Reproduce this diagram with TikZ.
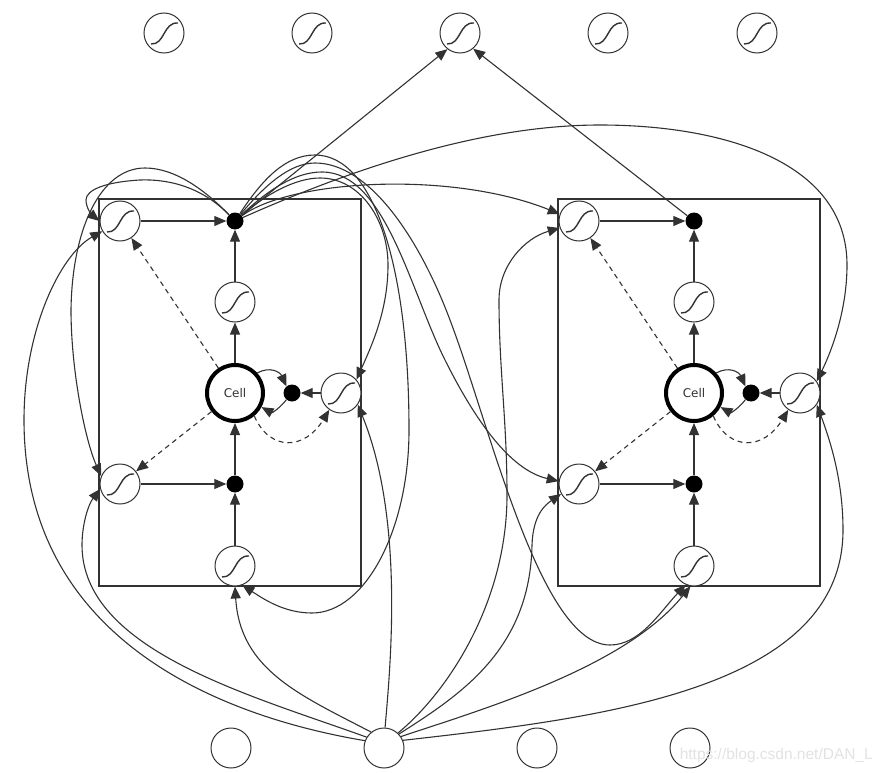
\documentclass[tikz,border=0pt]{standalone}
\usepackage{fontspec}
\setsansfont{DejaVu Sans}
\newfontfamily\markfont{Liberation Sans}
\usepackage{xcolor}
\usetikzlibrary{arrows.meta, positioning, backgrounds}
\definecolor{linecolor}{RGB}{50,50,50}
\definecolor{markcolor}{RGB}{226,226,226}

\begin{document}
\begin{tikzpicture}[
  x=1pt, y=-1pt,
  font=\sffamily,
  every node/.style={align=center},
  blockbox/.style={
    draw=linecolor, line width=1.2pt,
    minimum width=262pt, minimum height=387pt, inner sep=0pt
  },
  plainunit/.style={
    draw=linecolor, circle, fill=white, line width=1pt,
    minimum size=40pt, inner sep=0pt
  },
  sigmoid/.style={
    plainunit,
    path picture={
      \draw[linecolor, line width=1.4pt, shift={(path picture bounding box.center)}]
        (-13,11) .. controls (1,12) and (-1,-11) .. (14,-10);
    }
  },
  cellunit/.style={
    draw=black, circle, fill=white, line width=4pt,
    minimum size=56pt, inner sep=0pt,
    font=\fontsize{12}{14}\sffamily, text=linecolor
  },
  gateunit/.style={circle, fill=black, minimum size=17pt, inner sep=0pt},
  arr/.style={-{Triangle[length=12pt, width=10pt]}, linecolor, line width=1.1pt},
  peep/.style={arr, dash pattern=on 5pt off 4pt},
]

\useasboundingbox (0,0) rectangle (883,773);

%% ─── Memory blocks ───────────────────────────────────────────────────────────

\foreach \bk/\dx in {a/0, b/459}{
  \node[blockbox] (box\bk) at (230+\dx, 392.5) {};
}

%% ─── Output row ──────────────────────────────────────────────────────────────

\foreach \nd/\ox in {1/164, 2/312, 3/460, 4/608, 5/757}{
  \node[sigmoid] (top\nd) at (\ox, 33) {};
}

%% ─── Input row ───────────────────────────────────────────────────────────────

\node[plainunit] (inpone)   at (231, 748) {};
\node[plainunit] (inptwo)   at (384, 748) {};
\node[plainunit] (inpthree) at (537, 748) {};
\node[plainunit] (inpfour)  at (690, 748) {};

%% ─── Units and wiring inside each block ──────────────────────────────────────

\foreach \bk/\dx in {a/0, b/459}{
  \node[sigmoid]  (up\bk)     at (120+\dx, 221) {};
  \node[gateunit] (out\bk)    at (235+\dx, 221) {};
  \node[sigmoid]  (outsig\bk) at (235+\dx, 302) {};
  \node[cellunit] (cell\bk)   at (235+\dx, 393) {Cell};
  \node[gateunit] (keep\bk)   at (292+\dx, 393) {};
  \node[sigmoid]  (side\bk)   at (341+\dx, 393) {};
  \node[sigmoid]  (low\bk)    at (120+\dx, 484) {};
  \node[gateunit] (add\bk)    at (235+\dx, 484) {};
  \node[sigmoid]  (bot\bk)    at (235+\dx, 566) {};

  \draw[arr] (up\bk) -- (out\bk);
  \draw[arr] (outsig\bk) -- (out\bk);
  \draw[arr] (cell\bk) -- (outsig\bk);
  \draw[arr] (low\bk) -- (add\bk);
  \draw[arr] (bot\bk) -- (add\bk);
  \draw[arr] (add\bk) -- (cell\bk);
  \draw[arr] (side\bk) -- (keep\bk);
  \draw[peep] (cell\bk) -- (up\bk);
  \draw[peep] (cell\bk) -- (low\bk);
  \draw[peep] (cell\bk.-50) .. controls (270+\dx, 452) and (305+\dx, 450) .. (side\bk.-125);
  \draw[arr] (cell\bk.42) .. controls (270+\dx, 366) and (280+\dx, 372) .. (keep\bk.130);
  \draw[arr] (keep\bk.-130) .. controls (280+\dx, 408) and (272+\dx, 413) .. (cell\bk.-28);
}

%% ─── Output links ────────────────────────────────────────────────────────────

\draw[arr] (outa) -- (top3.-128);
\draw[arr] (outb) -- (top3.-50);

%% ─── Links from the first block's output gate ────────────────────────────────

\draw[arr] (outa) .. controls (200,185) and (165,179) .. (140,180)
  .. controls (105,182) and (86,190) .. (86,200)
  .. controls (86,208) and (92,215) .. (upa.180);
\draw[arr] (outa) .. controls (205,190) and (175,168) .. (145,168)
  .. controls (100,168) and (72,230) .. (71,310)
  .. controls (71,370) and (85,440) .. (lowa.157);
\draw[arr] (outa) .. controls (265,195) and (295,178) .. (320,178)
  .. controls (360,178) and (388,220) .. (388,265)
  .. controls (388,310) and (372,345) .. (sidea.41);
\draw[arr] (outa) .. controls (262,180) and (285,155) .. (315,155)
  .. controls (375,155) and (409,270) .. (409,430)
  .. controls (409,530) and (365,613) .. (312,613)
  .. controls (285,613) and (265,600) .. (bota.-69);
\draw[arr] (outa) .. controls (290,180) and (450,170) .. (upb.160);
\draw[arr] (outa) .. controls (268,190) and (295,172) .. (322,172)
  .. controls (385,172) and (410,290) .. (445,360)
  .. controls (475,420) and (510,470) .. (lowb.172);
\draw[arr] (outa) .. controls (265,185) and (290,163) .. (315,163)
  .. controls (370,163) and (420,240) .. (450,320)
  .. controls (490,425) and (540,645) .. (610,645)
  .. controls (640,645) and (660,612) .. (botb.-114);
\draw[arr] (outa) .. controls (350,170) and (480,125) .. (600,125)
  .. controls (720,125) and (847,160) .. (847,265)
  .. controls (847,310) and (832,350) .. (sideb.35);

%% ─── Links from the input unit ───────────────────────────────────────────────

\draw[arr] (inptwo.159) .. controls (230,718) and (24,645) .. (24,420)
  .. controls (24,330) and (60,255) .. (upa.-150);
\draw[arr] (inptwo.148) .. controls (250,695) and (82,650) .. (82,545)
  .. controls (82,525) and (88,505) .. (lowa.194);
\draw[arr] (inptwo.129) .. controls (300,695) and (240,670) .. (bota.-90);
\draw[arr] (inptwo.87) .. controls (390,670) and (405,520) .. (sidea.-35);
\draw[arr] (inptwo.47) .. controls (450,690) and (507,600) .. (507,495)
  .. controls (507,420) and (499,370) .. (499,300)
  .. controls (499,265) and (525,238) .. (upb.200);
\draw[arr] (inptwo.43) .. controls (460,695) and (530,650) .. (532,545)
  .. controls (533,515) and (545,505) .. (lowb.209);
\draw[arr] (inptwo.34) .. controls (480,710) and (625,668) .. (botb.-100);
\draw[arr] (inptwo.22) .. controls (600,718) and (843,690) .. (843,530)
  .. controls (843,480) and (830,440) .. (sideb.-35);

%% ─── Source mark ─────────────────────────────────────────────────────────────

\node[font=\fontsize{15.5}{18}\markfont, text=markcolor, anchor=east, inner sep=0pt]
  (mark) at (873, 755) {https://blog.csdn.net/DAN\_L};

\end{tikzpicture}
\end{document}
